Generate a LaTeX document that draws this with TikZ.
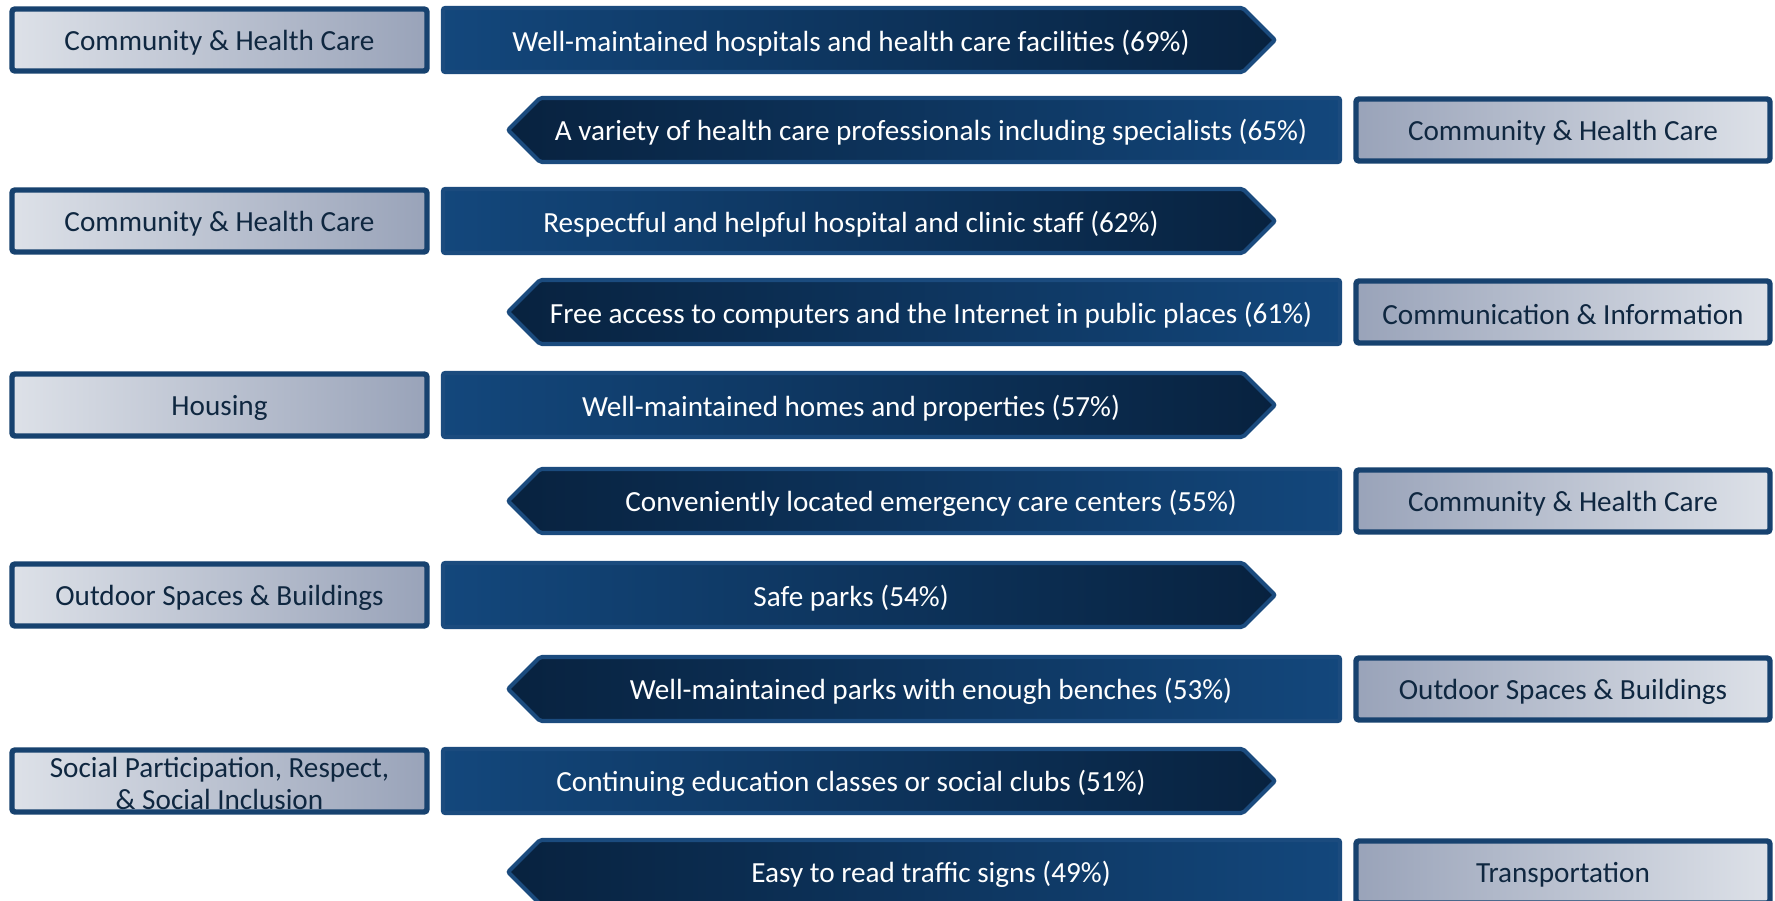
\documentclass[tikz,border=0pt]{standalone}
\usepackage{fontspec}
\setmainfont{Carlito}
\definecolor{catlight}{HTML}{DDE1E8}
\definecolor{catdark}{HTML}{99A3B9}
\definecolor{catline}{HTML}{17426F}
\definecolor{cattext}{HTML}{0F2740}
\definecolor{barblue}{HTML}{13477C}
\definecolor{barnavy}{HTML}{08223F}
\definecolor{barline}{HTML}{1B4B7E}
\usetikzlibrary{positioning}

\begin{document}
\begin{tikzpicture}[x=0.01cm, y=-0.01cm, font=\fontsize{8.3}{9.1}\selectfont,
    catbox/.style={draw=catline, line width=1.55pt, rounded corners=0.3mm},
    barshape/.style={draw=barline, line width=1.15pt, rounded corners=0.2mm},
    cattxt/.style={text=cattext, align=center, inner sep=0pt, yshift=-0.8pt},
    bartxt/.style={text=white, inner sep=0pt, yshift=-0.8pt}]
  \useasboundingbox (0,0) rectangle (1775,901);
  % Category on the left, bar pointing right
  \foreach \yc/\cat/\item [count=\i] in {
      40/{Community \& Health Care}/{Well-maintained hospitals and health care facilities (69\%)},
      221/{Community \& Health Care}/{Respectful and helpful hospital and clinic staff (62\%)},
      405/{Housing}/{Well-maintained homes and properties (57\%)},
      595/{Outdoor Spaces \& Buildings}/{Safe parks (54\%)},
      781/{Social Participation, Respect,\\ \& Social Inclusion}/{Continuing education classes or social clubs (51\%)}} {
    \draw[catbox, left color=catlight, right color=catdark]
      (12,\yc-31) rectangle (427,\yc+31);
    \node[cattxt] (catL\i) at (219.5,\yc) {\cat};
    \draw[barshape, left color=barblue, right color=barnavy]
      (443,\yc-32) -- (1243,\yc-32) -- (1275,\yc) -- (1243,\yc+32) -- (443,\yc+32) -- cycle;
    \node[bartxt] (barR\i) at (851,\yc) {\item};
  }
  % Bar pointing left, category on the right
  \foreach \yc/\cat/\item [count=\i] in {
      130/{Community \& Health Care}/{A variety of health care professionals including specialists (65\%)},
      312/{Communication \& Information}/{Free access to computers and the Internet in public places (61\%)},
      501/{Community \& Health Care}/{Conveniently located emergency care centers (55\%)},
      689/{Outdoor Spaces \& Buildings}/{Well-maintained parks with enough benches (53\%)},
      872/{Transportation}/{Easy to read traffic signs (49\%)}} {
    \draw[barshape, left color=barnavy, right color=barblue]
      (1340,\yc-32) -- (540,\yc-32) -- (508,\yc) -- (540,\yc+32) -- (1340,\yc+32) -- cycle;
    \node[bartxt] (barL\i) at (931,\yc) {\item};
    \draw[catbox, left color=catdark, right color=catlight]
      (1356,\yc-31) rectangle (1770,\yc+31);
    \node[cattxt] (catR\i) at (1563,\yc) {\cat};
  }
\end{tikzpicture}
\end{document}
